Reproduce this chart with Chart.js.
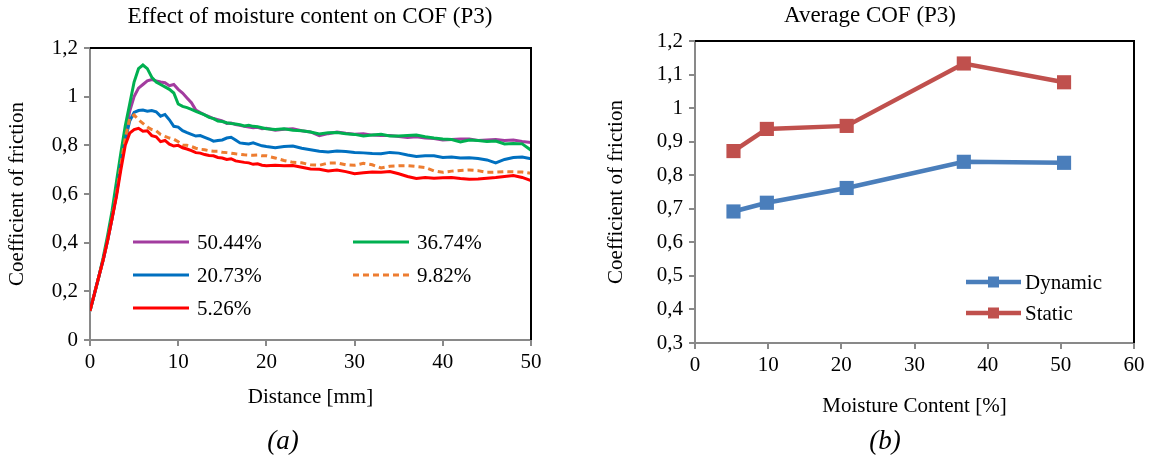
<!DOCTYPE html>
<html>
<head>
<meta charset="utf-8">
<script src="https://cdn.jsdelivr.net/npm/chart.js"></script>
<style>
  body { margin: 0; background: #fff; width: 1151px; height: 460px; position: relative; overflow: hidden; font-family: "Liberation Serif", serif; }
  .box { position: absolute; top: 0; height: 460px; }
  #boxA { left: 0; width: 575px; }
  #boxB { left: 575px; width: 576px; }
  .t { position: absolute; white-space: nowrap; transform: translate(-50%, -50%); color: #000; }
</style>
</head>
<body>
<div class="box" id="boxA"><canvas id="chartA"></canvas></div>
<div class="box" id="boxB"><canvas id="chartB"></canvas></div>
<div class="t" style="left:310px; top:16px; font-size:23px;">Effect of moisture content on COF (P3)</div>
<div class="t" style="left:870px; top:15px; font-size:23px;">Average COF (P3)</div>
<div class="t" style="left:283px; top:440px; font-size:27px; font-style:italic;">(a)</div>
<div class="t" style="left:885px; top:440px; font-size:27px; font-style:italic;">(b)</div>
<script>
// chart (a): COF vs sliding distance
var distance = [0,0.5,1,1.5,2,2.5,3,3.5,4,4.5,5,5.5,6,6.5,7,7.5,8,8.5,9,9.5,10,10.5,11,11.5,12,12.5,13,13.5,14,14.5,15,15.5,16,16.5,17,17.5,18,18.5,19,19.5,20,
  21,22,23,24,25,26,27,28,29,30,31,32,33,34,35,36,37,38,39,40,41,42,43,44,45,46,47,48,49,50];

var mc5044 = [0.12,0.19,0.26,0.33,0.41,0.50,0.60,0.72,0.84,0.94,1.0,1.035,1.05,1.065,1.07,1.065,1.06,1.057,1.045,1.05,
  1.03,1.015,0.995,0.975,0.945,0.935,0.925,0.918,0.91,0.905,0.90,0.89,0.892,0.885,0.882,0.878,0.875,0.872,0.874,0.868,0.87,
  0.862,0.866,0.868,0.86,0.855,0.84,0.848,0.855,0.85,0.846,0.848,0.842,0.84,0.84,0.836,0.832,0.835,0.83,0.828,0.822,
  0.824,0.826,0.826,0.82,0.822,0.824,0.82,0.822,0.816,0.812];
var mc3674 = [0.12,0.19,0.26,0.34,0.43,0.53,0.65,0.77,0.88,0.97,1.06,1.115,1.13,1.115,1.08,1.06,1.05,1.04,1.03,1.015,
  0.97,0.96,0.955,0.948,0.94,0.932,0.925,0.915,0.91,0.90,0.898,0.893,0.89,0.888,0.885,0.88,0.882,0.878,0.876,0.872,0.868,
  0.865,0.868,0.862,0.86,0.855,0.847,0.852,0.853,0.848,0.845,0.838,0.842,0.845,0.838,0.838,0.84,0.842,0.835,0.83,0.826,
  0.824,0.814,0.822,0.82,0.816,0.818,0.806,0.808,0.806,0.78];
var mc2073 = [0.12,0.19,0.26,0.33,0.41,0.50,0.60,0.72,0.82,0.90,0.935,0.943,0.945,0.94,0.943,0.938,0.92,0.927,0.905,0.878,
  0.875,0.86,0.852,0.845,0.838,0.84,0.833,0.826,0.817,0.82,0.822,0.83,0.833,0.822,0.81,0.808,0.806,0.81,0.804,0.798,0.795,
  0.79,0.795,0.797,0.788,0.782,0.776,0.773,0.777,0.775,0.771,0.769,0.766,0.765,0.771,0.768,0.76,0.754,0.757,0.757,0.75,
  0.752,0.748,0.749,0.746,0.74,0.728,0.742,0.75,0.752,0.745];
var mc982 = [0.12,0.19,0.26,0.33,0.41,0.50,0.60,0.72,0.83,0.91,0.925,0.905,0.89,0.875,0.865,0.86,0.845,0.837,0.83,0.825,
  0.815,0.80,0.80,0.795,0.788,0.784,0.782,0.778,0.776,0.776,0.772,0.77,0.768,0.765,0.763,0.761,0.76,0.759,0.76,0.757,0.757,
  0.748,0.738,0.73,0.728,0.72,0.718,0.727,0.728,0.72,0.718,0.726,0.72,0.707,0.714,0.716,0.716,0.713,0.709,0.695,0.689,
  0.694,0.697,0.699,0.696,0.689,0.69,0.692,0.691,0.69,0.685];
var mc526 = [0.12,0.19,0.26,0.33,0.41,0.50,0.59,0.70,0.80,0.85,0.865,0.87,0.858,0.86,0.84,0.835,0.815,0.82,0.805,0.797,
  0.80,0.79,0.785,0.778,0.77,0.768,0.762,0.758,0.757,0.75,0.748,0.742,0.745,0.736,0.733,0.73,0.728,0.722,0.724,0.718,0.716,
  0.718,0.716,0.717,0.71,0.703,0.702,0.695,0.699,0.692,0.683,0.687,0.69,0.689,0.692,0.683,0.672,0.664,0.668,0.665,0.667,
  0.668,0.664,0.661,0.662,0.665,0.668,0.672,0.676,0.668,0.655];

// chart (b): average COF vs moisture content
var moisture = [5.26, 9.82, 20.73, 36.74, 50.44];
var dynamicCOF = [0.692, 0.718, 0.762, 0.840, 0.837];
var staticCOF = [0.872, 0.938, 0.947, 1.133, 1.077];

function pts(xs, ys) {
  return xs.map(function (x, i) { return { x: x, y: ys[i] }; });
}
function commaTick(v) {
  return String(Number(v.toFixed(1))).replace('.', ',');
}

var serif = '"Liberation Serif", "Times New Roman", serif';
var axisGrey = '#898989';

// black frame on top and right of the plot area
var frame = {
  id: 'frame',
  afterDraw: function (chart) {
    var a = chart.chartArea, ctx = chart.ctx;
    ctx.save();
    ctx.strokeStyle = '#000';
    ctx.lineWidth = 2;
    ctx.beginPath();
    ctx.moveTo(a.left, a.top);
    ctx.lineTo(a.right, a.top);
    ctx.lineTo(a.right, a.bottom);
    ctx.stroke();
    ctx.restore();
  }
};

// legend drawn inside the plot area
var innerLegend = {
  id: 'innerLegend',
  afterDraw: function (chart, args, opts) {
    var ctx = chart.ctx;
    ctx.save();
    ctx.font = opts.fontSize + 'px ' + serif;
    ctx.textBaseline = 'middle';
    ctx.fillStyle = '#000';
    opts.places.forEach(function (p, i) {
      var ds = chart.data.datasets[i];
      ctx.strokeStyle = ds.borderColor;
      ctx.lineWidth = ds.borderWidth;
      ctx.setLineDash(ds.borderDash || []);
      ctx.beginPath();
      ctx.moveTo(p[0], p[1]);
      ctx.lineTo(p[0] + opts.lineLen, p[1]);
      ctx.stroke();
      ctx.setLineDash([]);
      if (opts.marker) {
        ctx.fillStyle = ds.backgroundColor;
        ctx.fillRect(p[0] + opts.lineLen / 2 - opts.marker / 2, p[1] - opts.marker / 2, opts.marker, opts.marker);
        ctx.fillStyle = '#000';
      }
      ctx.fillText(ds.label, p[0] + opts.lineLen + opts.gap, p[1] + 1);
    });
    ctx.restore();
  }
};

function axisCommon() {
  return {
    border: { display: true, color: axisGrey, width: 2 },
    grid: { drawOnChartArea: false, drawTicks: true, tickLength: 6, color: axisGrey, lineWidth: 2 }
  };
}

var xA = axisCommon();
xA.type = 'linear';
xA.min = 0; xA.max = 50;
xA.ticks = { stepSize: 10, color: '#000', font: { family: serif, size: 21 }, padding: 4, maxRotation: 0 };
xA.title = { display: true, text: 'Distance [mm]', color: '#000', font: { family: serif, size: 21 }, padding: { top: 0, bottom: 0 } };
xA.afterFit = function (s) { s.height = 70; };

var yA = axisCommon();
yA.min = 0; yA.max = 1.2;
yA.ticks = { stepSize: 0.2, color: '#000', font: { family: serif, size: 21 }, padding: 6, callback: commaTick };
yA.title = { display: true, text: 'Coefficient of friction', color: '#000', font: { family: serif, size: 21 }, padding: { top: 0, bottom: 0 } };
yA.afterFit = function (s) { s.width = 85; };

new Chart(document.getElementById('chartA'), {
  type: 'line',
  data: {
    datasets: [
      { label: '50.44%', data: pts(distance, mc5044), borderColor: '#A23C9F', borderWidth: 3, order: 4 },
      { label: '36.74%', data: pts(distance, mc3674), borderColor: '#00B050', borderWidth: 3, order: 3 },
      { label: '20.73%', data: pts(distance, mc2073), borderColor: '#0070C0', borderWidth: 3, order: 2 },
      { label: '9.82%', data: pts(distance, mc982), borderColor: '#ED7D31', borderWidth: 3, borderDash: [6, 4], order: 1 },
      { label: '5.26%', data: pts(distance, mc526), borderColor: '#FF0000', borderWidth: 3, order: 0 }
    ]
  },
  options: {
    responsive: true,
    maintainAspectRatio: false,
    animation: false,
    layout: { padding: { top: 48, right: 44, bottom: 50, left: 5 } },
    elements: { point: { radius: 0 }, line: { tension: 0 } },
    scales: { x: xA, y: yA },
    plugins: {
      legend: { display: false },
      tooltip: { enabled: false },
      innerLegend: { places: [[133, 242], [353, 242], [133, 275], [353, 275], [133, 308]], lineLen: 56, gap: 8, fontSize: 21 }
    }
  },
  plugins: [frame, innerLegend]
});

var xB = axisCommon();
xB.type = 'linear';
xB.min = 0; xB.max = 60;
xB.ticks = { stepSize: 10, color: '#000', font: { family: serif, size: 21 }, padding: 4, maxRotation: 0 };
xB.title = { display: true, text: 'Moisture Content [%]', color: '#000', font: { family: serif, size: 21 }, padding: { top: 0, bottom: 0 } };
xB.afterFit = function (s) { s.height = 76; };

var yB = axisCommon();
yB.min = 0.3; yB.max = 1.2;
yB.ticks = { stepSize: 0.1, color: '#000', font: { family: serif, size: 21 }, padding: 6, callback: commaTick };
yB.title = { display: true, text: 'Coefficient of friction', color: '#000', font: { family: serif, size: 21 }, padding: { top: 0, bottom: 0 } };
yB.afterFit = function (s) { s.width = 91; };

new Chart(document.getElementById('chartB'), {
  type: 'line',
  data: {
    datasets: [
      { label: 'Dynamic', data: pts(moisture, dynamicCOF), borderColor: '#4A7EBB', backgroundColor: '#4A7EBB', borderWidth: 4.5,
        pointStyle: 'rect', pointRadius: 10, pointBorderWidth: 0 },
      { label: 'Static', data: pts(moisture, staticCOF), borderColor: '#C0504D', backgroundColor: '#C0504D', borderWidth: 4.5,
        pointStyle: 'rect', pointRadius: 10, pointBorderWidth: 0 }
    ]
  },
  options: {
    responsive: true,
    maintainAspectRatio: false,
    animation: false,
    layout: { padding: { top: 41, right: 17, bottom: 41, left: 29 } },
    elements: { line: { tension: 0 } },
    scales: { x: xB, y: yB },
    plugins: {
      legend: { display: false },
      tooltip: { enabled: false },
      innerLegend: { places: [[391, 282], [391, 313]], lineLen: 55, gap: 4, fontSize: 21, marker: 11 }
    }
  },
  plugins: [frame, innerLegend]
});
</script>
</body>
</html>
